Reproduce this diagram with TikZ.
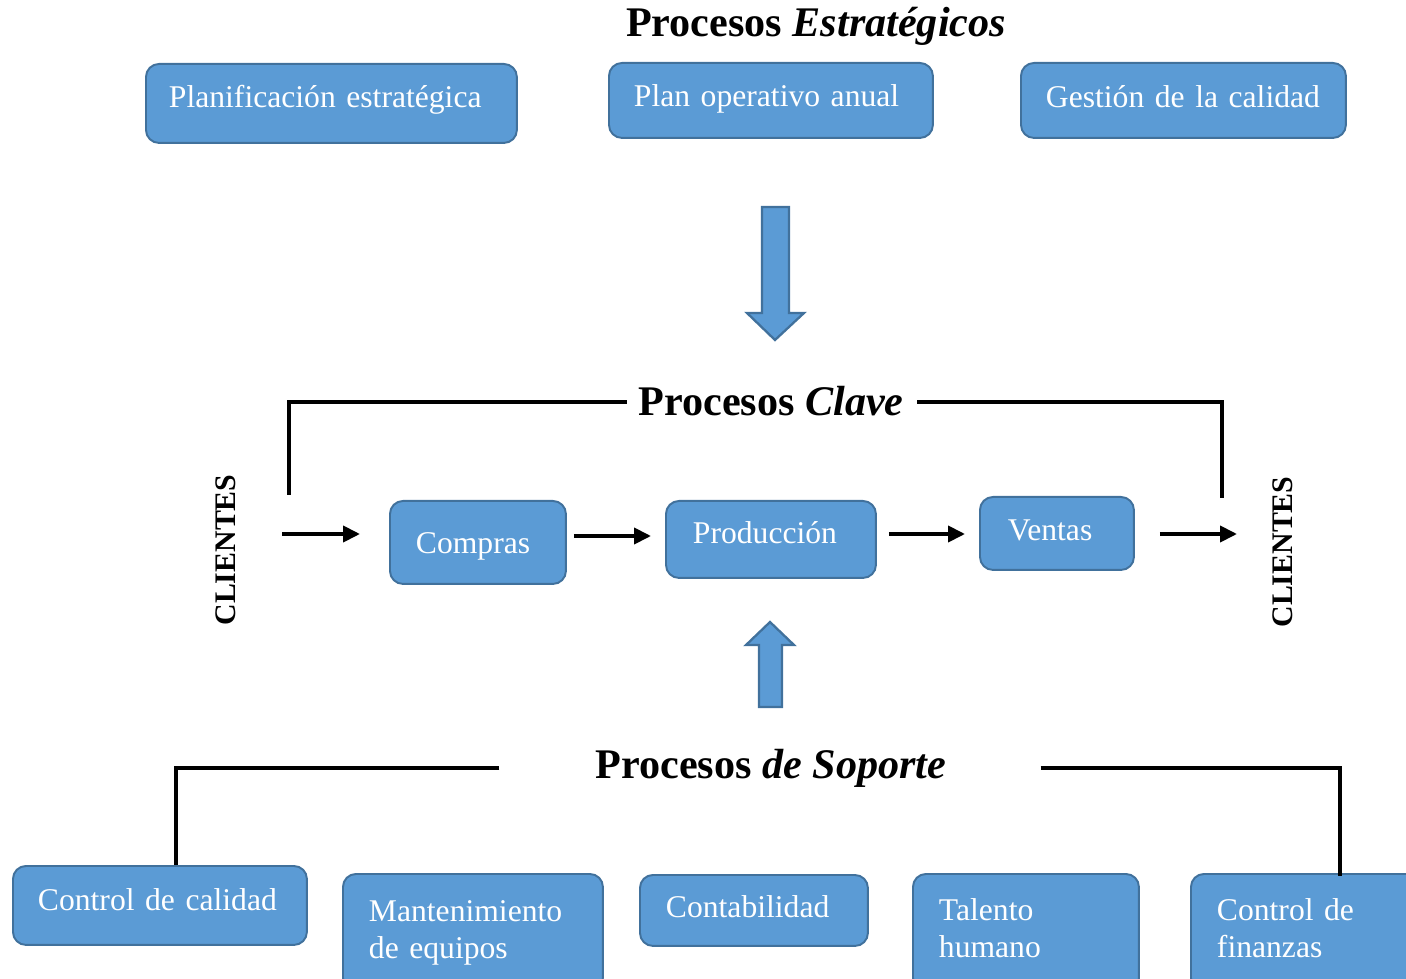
\documentclass[tikz,border=0pt]{standalone}
\usepackage{fontspec}
\setmainfont{Liberation Serif}
\usetikzlibrary{arrows.meta}

\definecolor{boxfill}{HTML}{5B9BD5}
\definecolor{boxline}{HTML}{41719C}

\begin{document}
\begin{tikzpicture}[x=0.02cm,y=-0.02cm]
\tikzset{proc/.style ={draw=boxline, fill=boxfill, line width=1.1pt, rounded corners=0.26cm,
    anchor=north west, text=white, align=left, inner ysep=0pt, font=\fontsize{18}{21}\selectfont},
  title/.style ={font=\fontsize{24}{28}\selectfont\bfseries, inner sep=2pt, anchor=base},
  side/.style ={font=\fontsize{17}{20}\selectfont\bfseries, rotate=90},
  flow/.style ={line width=2.2pt, -{Triangle[length=0.34cm,width=0.32cm]}},
  bracket/.style ={line width=2.3pt},
  bigarrow/.style ={draw=boxline, fill=boxfill, line width=1.3pt, line join=miter}}
\useasboundingbox (0,0) rectangle (1406,979);
\clip (0,0) rectangle (1406,979);

% estrategicos
\node[title] (estr) at (816,37) {Procesos \textit{Estratégicos}};
\node[proc, inner xsep=0.46cm, text width=6.50cm, text height=0.88cm, text depth=0.70cm] (plan) at (145,63) {Planificación estratégica};
\node[proc, inner xsep=0.50cm, text width=5.48cm, text height=0.88cm, text depth=0.62cm] (poa) at (608,62) {Plan operativo anual};
\node[proc, inner xsep=0.50cm, text width=5.50cm, text height=0.90cm, text depth=0.60cm] (gcal) at (1020,62) {Gestión de la calidad};

\draw[bigarrow] (762,207) -- (789,207) -- (789,313) -- (804,313) -- (775,340) -- (747,313) -- (762,313) -- cycle;

% clave
\node[title] (clave) at (771,416) {Procesos \textit{Clave}};
\node[side] (cliL) at (226,550) {CLIENTES};
\node[side] (cliR) at (1283,552) {CLIENTES};
\node[proc, inner xsep=0.52cm, text width=2.48cm, text height=1.06cm, text depth=0.60cm] (compras) at (389,500) {Compras};
\node[proc, inner xsep=0.54cm, text width=3.12cm, text height=0.86cm, text depth=0.68cm] (prod) at (665,500) {Producción};
\node[proc, inner xsep=0.56cm, text width=1.96cm, text height=0.88cm, text depth=0.58cm] (ventas) at (979,496) {Ventas};

\coordinate (kL) at (289,495);
\coordinate (kR) at (1222,498);
\draw[bracket] (kL) |- ([xshift=-0.15cm]clave.west);
\draw[bracket] ([xshift=0.2cm]clave.east) -| (kR);

\coordinate (inL) at (282,534);
\coordinate (outR) at (1237,534);
\draw[flow, shorten >=0.58cm] (inL) -- (inL -| compras.west);
\draw[flow, shorten <=0.14cm, shorten >=0.28cm] (compras.east |- 0,536) -- (prod.west |- 0,536);
\draw[flow, shorten <=0.24cm, shorten >=0.28cm] (prod.east |- 0,534) -- (ventas.west |- 0,534);
\draw[flow, shorten <=0.5cm] (ventas.east |- outR) -- (outR);

\draw[bigarrow] (759,707) -- (782,707) -- (782,645) -- (794,645) -- (770,622) -- (746,645) -- (759,645) -- cycle;

% soporte
\node[title] (soporte) at (771,778) {Procesos \textit{de Soporte}};
\node[proc, inner xsep=0.50cm, text width=4.88cm, text height=0.90cm, text depth=0.68cm] (ccal) at (12,865) {Control de calidad};
\node[proc, inner xsep=0.52cm, text width=4.16cm, text height=0.96cm, text depth=1.38cm] (mant) at (342,873) {Mantenimiento\\de equipos};
\node[proc, inner xsep=0.52cm, text width=3.52cm, text height=0.86cm, text depth=0.56cm] (conta) at (639,874) {Contabilidad};
\node[proc, inner xsep=0.52cm, text width=3.48cm, text height=0.94cm, text depth=1.40cm] (tal) at (912,873) {Talento\\humano};
\node[proc, inner xsep=0.52cm, text width=3.56cm, text height=0.94cm, text depth=1.40cm] (cfin) at (1190,873) {Control de\\finanzas};

\draw[bracket] ([xshift=-1.85cm]soporte.west) -| ([xshift=0.32cm]ccal.north);
\draw[bracket] ([xshift=1.81cm]soporte.east) -| ([xshift=3.0cm,yshift=-0.06cm]cfin.north west);
\end{tikzpicture}
\end{document}
